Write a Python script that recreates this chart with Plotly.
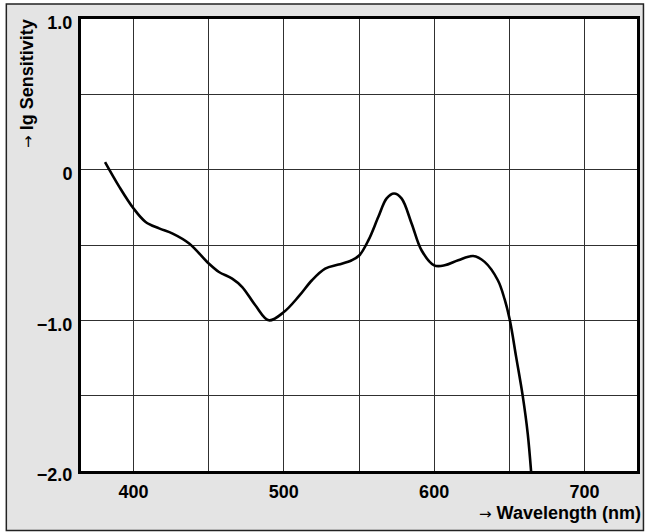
import plotly.graph_objects as go

wavelength = [381, 390.5, 400, 408, 417, 426, 437, 450, 456.8, 465.6, 472.3, 481, 490,
              500, 510, 518.7, 527.5, 536.4, 545.2, 550.3, 556.3, 562.9, 568.4, 573.3,
              578.3, 585, 591.6, 600, 607, 616, 626, 633.6, 642.4, 646.9, 650.4, 654.6,
              659, 662.3, 664.5]
sensitivity = [0.05, -0.114, -0.258, -0.347, -0.39, -0.424, -0.49, -0.623, -0.679, -0.723,
               -0.779, -0.90, -1.0, -0.945, -0.84, -0.734, -0.657, -0.63, -0.601, -0.568,
               -0.468, -0.313, -0.191, -0.158, -0.191, -0.357, -0.535, -0.635, -0.635,
               -0.601, -0.573, -0.612, -0.734, -0.86, -1.0, -1.244, -1.505, -1.753, -2.0]

x_tickvals = [400, 500, 600, 700]
x_ticktext = ["400", "500", "600", "700"]
y_tickvals = [-2, -1, 0, 1]
y_ticktext = ["\u22122.0", "\u22121.0", "0", "1.0"]

FONT = "Liberation Sans, Arial, sans-serif"
ARROW = '<span style="font-family:DejaVu Sans;font-weight:normal;font-size:15px">\u2192</span>'

fig = go.Figure()
fig.add_trace(go.Scatter(
    x=wavelength, y=sensitivity, mode="lines",
    line=dict(color="black", width=2.6, shape="spline", smoothing=1),
    hoverinfo="skip", showlegend=False,
))

grid_col = "#303030"
fig.update_xaxes(
    range=[365, 735], tickvals=x_tickvals, ticktext=x_ticktext,
    showgrid=True, gridcolor=grid_col, gridwidth=1,
    minor=dict(dtick=50, tick0=400, showgrid=True, gridcolor=grid_col, gridwidth=1, ticks=""),
    showline=True, linecolor="black", linewidth=3, mirror=True,
    ticks="", zeroline=False, ticklabelstandoff=2,
    tickfont=dict(family=FONT, size=18, color="black", weight="bold"),
)
fig.update_yaxes(
    range=[-2, 1], tickvals=y_tickvals, ticktext=y_ticktext,
    showgrid=True, gridcolor=grid_col, gridwidth=1,
    minor=dict(dtick=0.5, tick0=0, showgrid=True, gridcolor=grid_col, gridwidth=1, ticks=""),
    showline=True, linecolor="black", linewidth=3, mirror=True,
    ticks="", zeroline=False, ticklabelstandoff=2, ticklabelshift=4,
    tickfont=dict(family=FONT, size=18, color="black", weight="bold"),
)

# grey panel with dark frame behind everything, then white plot area on top of it
fig.add_shape(type="rect", xref="paper", yref="paper",
              x0=-0.1343, x1=1.0116, y0=-0.1318, y1=1.0332,
              fillcolor="#e4e4e4", line=dict(color="#222222", width=1.5), layer="below")
fig.add_shape(type="rect", xref="paper", yref="paper",
              x0=0, x1=1, y0=0, y1=1,
              fillcolor="white", line=dict(width=0), layer="below")

fig.add_annotation(xref="paper", yref="paper", x=-0.0985, y=1.004,
                   xanchor="center", yanchor="top", textangle=-90, showarrow=False,
                   text=ARROW + " Ig Sensitivity",
                   font=dict(family=FONT, size=18, color="black", weight="bold"))
fig.add_annotation(xref="paper", yref="paper", x=1.011, y=-0.092,
                   xanchor="right", yanchor="middle", showarrow=False,
                   text=ARROW + " Wavelength (nm)",
                   font=dict(family=FONT, size=18, color="black", weight="bold"))

fig.update_layout(
    width=649, height=532,
    margin=dict(l=81, r=9, t=19, b=61),
    paper_bgcolor="white", plot_bgcolor="white",
    showlegend=False,
)

fig.write_html("out.html", config={"displayModeBar": False},
               post_script="document.body.style.margin='0';document.body.style.overflow='hidden';")
